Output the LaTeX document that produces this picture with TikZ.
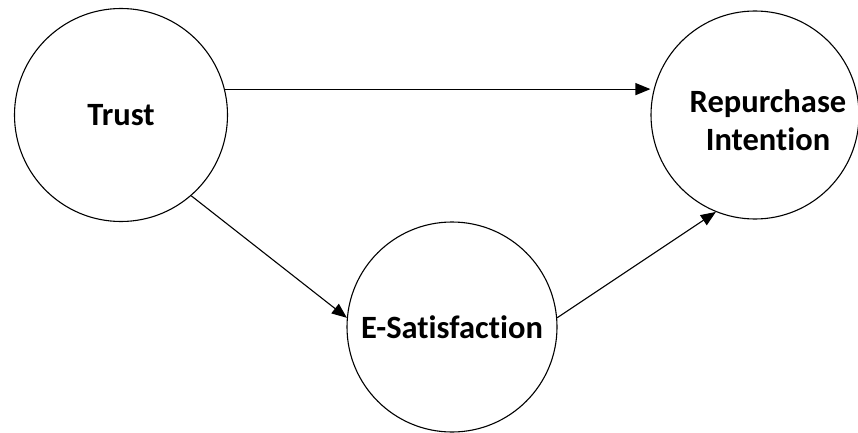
\documentclass[tikz,border=0pt]{standalone}
\usepackage{fontspec}
\setmainfont[Ligatures=NoCommon]{Carlito}
\usetikzlibrary{arrows.meta}

\tikzset{
  var/.style={draw, circle, line width=1.1pt, inner sep=0pt, font=\fontsize{32.5}{38}\selectfont\bfseries, align=center},
  arr/.style={line width=1.1pt, -{Triangle[length=15pt,width=12pt]}}
}

\begin{document}
\begin{tikzpicture}[x=1pt,y=1pt]
\useasboundingbox (0,0) rectangle (858,432);
\node [var, minimum size=213pt] (trust) at (121,317) {Trust};
\node [var, minimum size=208pt] (rep) at (755,317) {};
\node [font=\fontsize{32.5}{38}\selectfont\bfseries, align=center] (reptext) at (768,312) {Repurchase\\Intention};
\node [var, minimum size=210pt] (esat) at (452,105) {E-Satisfaction};
\draw [arr] (trust.14) -- (trust.14 -| rep.west);
\draw [arr] (trust.-49) -- (esat.175);
\draw [arr] (esat.5) -- (rep.248);
\end{tikzpicture}
\end{document}
